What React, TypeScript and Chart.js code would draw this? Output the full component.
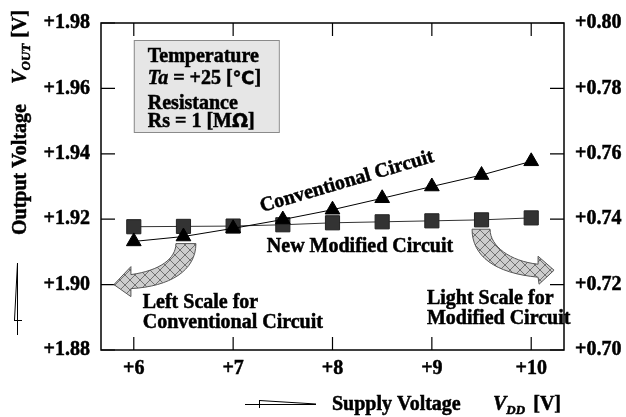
import React, { useEffect, useRef } from "react";
import { Chart, registerables } from "chart.js";

Chart.register(...registerables);

// ---- data ----
const supplyVoltage = [6, 6.5, 7, 7.5, 8, 8.5, 9, 9.5, 10];
const conventionalVout = [1.9132, 1.9147, 1.9172, 1.9199, 1.9229, 1.9264, 1.93, 1.9335, 1.9377];
const modifiedVout = [0.7377, 0.7378, 0.7379, 0.7383, 0.7389, 0.7392, 0.7395, 0.7398, 0.7404];
const xTicks = [6, 7, 8, 9, 10];
const leftTicks = [1.88, 1.9, 1.92, 1.94, 1.96, 1.98];
const rightTicks = [0.7, 0.72, 0.74, 0.76, 0.78, 0.8];

const SERIF = '"Liberation Serif", "Times New Roman", serif';
const B = (s: number) => `bold ${s}px ${SERIF}`;
const BI = (s: number) => `italic bold ${s}px ${SERIF}`;
const STROKE = 0.5;

export default function App() {
  const ref = useRef<HTMLCanvasElement>(null);

  useEffect(() => {
    document.body.style.margin = "0";
    const canvas = ref.current!;

    const pat = document.createElement("canvas");
    pat.width = 10;
    pat.height = 10;
    const pc = pat.getContext("2d")!;
    pc.fillStyle = "#cdcdcd";
    pc.fillRect(0, 0, 10, 10);
    pc.strokeStyle = "#707070";
    pc.lineWidth = 1;
    pc.beginPath();
    pc.moveTo(0, 0);
    pc.lineTo(10, 10);
    pc.moveTo(10, 0);
    pc.lineTo(0, 10);
    pc.stroke();

    const txt = (ctx: CanvasRenderingContext2D, t: string, x: number, y: number) => {
      ctx.fillText(t, x, y);
      ctx.lineWidth = STROKE;
      ctx.strokeStyle = "#000";
      ctx.strokeText(t, x, y);
    };

    const runs = (ctx: CanvasRenderingContext2D, x: number, y: number, parts: [string, string, number?][]) => {
      let cx = x;
      for (const [t, f, dy] of parts) {
        ctx.font = f;
        txt(ctx, t, cx, y + (dy || 0));
        cx += ctx.measureText(t).width;
      }
      return cx;
    };

    const drawArrow = (ctx: CanvasRenderingContext2D, tx: number, ty: number, cmds: any[], fill: CanvasPattern | string) => {
      ctx.beginPath();
      for (const c of cmds) {
        if (c[0] === "M") ctx.moveTo(tx + c[1], ty + c[2]);
        else if (c[0] === "L") ctx.lineTo(tx + c[1], ty + c[2]);
        else if (c[0] === "C") ctx.bezierCurveTo(tx + c[1], ty + c[2], tx + c[3], ty + c[4], tx + c[5], ty + c[6]);
      }
      ctx.closePath();
      ctx.fillStyle = fill;
      ctx.fill();
      ctx.strokeStyle = "#555";
      ctx.lineWidth = 1;
      ctx.stroke();
    };

    const decor = {
      id: "decor",
      afterDatasetsDraw(chart: any) {
        const ctx: CanvasRenderingContext2D = chart.ctx;
        const a = chart.chartArea;
        const xs = chart.scales.x;
        const yl = chart.scales.yLeft;
        const yr = chart.scales.yRight;
        const X = (v: number) => xs.getPixelForValue(v);
        const YL = (v: number) => yl.getPixelForValue(v);
        const YR = (v: number) => yr.getPixelForValue(v);
        const pattern = ctx.createPattern(pat, "repeat") || "#ccc";

        ctx.save();
        // frame
        ctx.strokeStyle = "#000";
        ctx.lineWidth = 1.5;
        ctx.strokeRect(a.left, a.top, a.right - a.left, a.bottom - a.top);
        ctx.lineWidth = 1.2;
        ctx.beginPath();
        leftTicks.forEach((v) => {
          const y = YL(v);
          ctx.moveTo(a.left, y);
          ctx.lineTo(a.left + 14, y);
        });
        rightTicks.forEach((v) => {
          const y = YR(v);
          ctx.moveTo(a.right, y);
          ctx.lineTo(a.right - 14, y);
        });
        xTicks.forEach((v) => {
          const x = X(v);
          ctx.moveTo(x, a.bottom);
          ctx.lineTo(x, a.bottom - 13);
          ctx.moveTo(x, a.top);
          ctx.lineTo(x, a.top + 13);
        });
        ctx.stroke();

        // legend box
        const bx = X(6);
        const by = a.top + 17;
        ctx.fillStyle = "#e6e6e6";
        ctx.fillRect(bx, by, 145, 92);
        ctx.strokeStyle = "#8a8a8a";
        ctx.lineWidth = 1;
        ctx.strokeRect(bx + 0.5, by + 0.5, 145, 92);
        ctx.fillStyle = "#000";
        ctx.textAlign = "left";
        ctx.textBaseline = "alphabetic";
        const lx = bx + 14;
        runs(ctx, lx, by + 22, [["Temperature", B(20)]]);
        runs(ctx, lx, by + 44, [["Ta", BI(20)], [" = +25 [", B(20)], ["\u2103", `bold 18px "DejaVu Sans", sans-serif`], ["]", B(20)]]);
        runs(ctx, lx, by + 69, [["Resistance", B(20)]]);
        runs(ctx, lx, by + 87, [["Rs = 1 [M", B(20)], ["\u03A9", `bold 19px "DejaVu Sans", sans-serif`], ["]", B(20)]]);

        // arrows
        drawArrow(ctx, X(5.8), YL(1.9), [
          ["M", 62, -41], ["C", 62, -26, 46, -14, 17, -10], ["L", 17, -18], ["L", 0, 0], ["L", 17, 12], ["L", 17, 4],
          ["C", 56, 2, 82, -14, 82, -41],
        ], pattern);
        drawArrow(ctx, X(10.23), YR(0.7244), [
          ["M", -82, -41], ["C", -82, -14, -59, 3, -16, 7], ["L", -15, 14], ["L", 0, 0], ["L", -16, -14], ["L", -16, -6],
          ["C", -44, -9, -64, -24, -64, -41],
        ], pattern);

        // annotations
        ctx.fillStyle = "#000";
        ctx.font = B(20);
        ctx.save();
        ctx.translate(X(7.29), YL(1.9222));
        ctx.rotate((-16.3 * Math.PI) / 180);
        txt(ctx, "Conventional Circuit", 0, 0);
        ctx.restore();
        ctx.font = B(20);
        txt(ctx, "New Modified Circuit", X(7.339), YL(1.9099));
        txt(ctx, "Left Scale for", X(6.09), YL(1.8927));
        txt(ctx, "Conventional Circuit", X(6.09), YL(1.8866));
        txt(ctx, "Light Scale for", X(8.95), YL(1.8942));
        txt(ctx, "Modified Circuit", X(8.95), YL(1.8881));

        // y-axis title (reads bottom to top, from y=235 to y=10)
        ctx.save();
        ctx.translate(26, 235);
        ctx.rotate(-Math.PI / 2);
        ctx.font = B(20);
        const wOV = ctx.measureText("Output Voltage").width;
        ctx.font = BI(20);
        const wV = ctx.measureText("V").width;
        ctx.font = BI(13);
        const wOUT = ctx.measureText("OUT").width;
        ctx.font = B(20);
        const wB = ctx.measureText("[V]").width;
        const gap = Math.max(8, 225 - wOV - wV - wOUT - 6 - wB);
        ctx.font = B(20);
        txt(ctx, "Output Voltage", 0, 0);
        let cx = wOV + gap;
        ctx.font = BI(20);
        txt(ctx, "V", cx, 0);
        cx += wV;
        ctx.font = BI(13);
        txt(ctx, "OUT", cx, 4);
        cx += wOUT + 6;
        ctx.font = B(20);
        txt(ctx, "[V]", cx, 0);
        ctx.restore();

        // x-axis title
        ctx.textAlign = "left";
        ctx.font = B(20);
        txt(ctx, "Supply Voltage", 332, 410);
        ctx.font = BI(20);
        txt(ctx, "V", 493, 410);
        cx = 493 + ctx.measureText("V").width;
        ctx.font = BI(13);
        txt(ctx, "DD", cx, 414);
        ctx.font = B(20);
        ctx.textAlign = "right";
        txt(ctx, "[V]", 561, 410);

        // axis glyphs
        ctx.strokeStyle = "#000";
        ctx.lineWidth = 1;
        ctx.beginPath();
        ctx.moveTo(17.5, 263);
        ctx.lineTo(17.5, 335);
        ctx.moveTo(17.5, 263);
        ctx.lineTo(14.5, 320);
        ctx.moveTo(14, 320.5);
        ctx.lineTo(22, 320.5);
        ctx.moveTo(245, 404.5);
        ctx.lineTo(316, 404.5);
        ctx.moveTo(316, 404);
        ctx.lineTo(259.5, 400.5);
        ctx.moveTo(259.5, 400);
        ctx.lineTo(259.5, 408);
        ctx.stroke();

        ctx.restore();
      },
    };

    const tickFont = { family: SERIF, size: 20, weight: "bold" as const };
    const tickBase = { color: "#000", font: tickFont, textStrokeColor: "#000", textStrokeWidth: STROKE };

    const chart = new Chart(canvas, {
      type: "line",
      data: {
        datasets: [
          {
            label: "Conventional Circuit",
            data: supplyVoltage.map((x, i) => ({ x, y: conventionalVout[i] })),
            yAxisID: "yLeft",
            borderColor: "#000",
            borderWidth: 1,
            pointStyle: "triangle",
            pointRadius: 8.5,
            pointBackgroundColor: "#000",
            pointBorderColor: "#000",
            pointBorderWidth: 1,
            fill: false,
            tension: 0,
          },
          {
            label: "New Modified Circuit",
            data: supplyVoltage.map((x, i) => ({ x, y: modifiedVout[i] })),
            yAxisID: "yRight",
            borderColor: "#333",
            borderWidth: 1,
            pointStyle: "rect",
            pointRadius: 10,
            pointBackgroundColor: "#333",
            pointBorderColor: "#222",
            pointBorderWidth: 1,
            fill: false,
            tension: 0,
          },
        ],
      },
      options: {
        responsive: false,
        animation: false,
        devicePixelRatio: 1,
        events: [],
        layout: { padding: { top: 18, left: 0, right: 0, bottom: 0 } },
        plugins: { legend: { display: false }, tooltip: { enabled: false } },
        scales: {
          x: {
            type: "linear",
            min: 5.67,
            max: 10.33,
            afterBuildTicks: (s: any) => {
              s.ticks = xTicks.map((v) => ({ value: v }));
            },
            afterFit: (s: any) => {
              s.height = 67;
            },
            grid: { display: false, drawTicks: false },
            border: { display: false },
            ticks: { ...tickBase, padding: 7, callback: (v: any) => "+" + v },
          },
          yLeft: {
            type: "linear",
            position: "left",
            min: 1.88,
            max: 1.98,
            afterBuildTicks: (s: any) => {
              s.ticks = leftTicks.map((v) => ({ value: v }));
            },
            afterFit: (s: any) => {
              s.width = 101;
            },
            grid: { display: false, drawTicks: false },
            border: { display: false },
            ticks: { ...tickBase, padding: 11, callback: (v: any) => "+" + Number(v).toFixed(2) },
          },
          yRight: {
            type: "linear",
            position: "right",
            min: 0.7,
            max: 0.8,
            afterBuildTicks: (s: any) => {
              s.ticks = rightTicks.map((v) => ({ value: v }));
            },
            afterFit: (s: any) => {
              s.width = 62;
            },
            grid: { display: false, drawTicks: false },
            border: { display: false },
            ticks: { ...tickBase, padding: 11, callback: (v: any) => "+" + Number(v).toFixed(2) },
          },
        },
      },
      plugins: [decor],
    });

    return () => chart.destroy();
  }, []);

  return (
    <div style={{ width: 626, height: 417 }}>
      <canvas ref={ref} width={626} height={417} style={{ display: "block", width: 626, height: 417 }} />
    </div>
  );
}
